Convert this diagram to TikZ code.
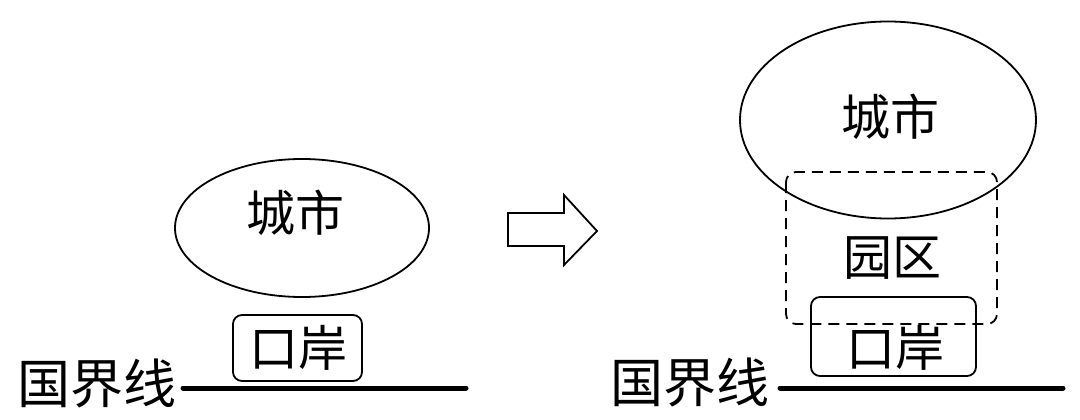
\documentclass[tikz,border=0pt]{standalone}
\usepackage{fontspec}
\newfontfamily\cjk{Noto Sans CJK SC}
\usetikzlibrary{shapes.geometric,positioning}

\begin{document}
\begin{tikzpicture}[x=1pt,y=-1pt,
  lbl/.style={font=\cjk\fontsize{49}{58}\selectfont,inner sep=0pt},
  biglbl/.style={font=\cjk\fontsize{53}{62}\selectfont,inner sep=0pt},
  city/.style={draw,line width=1.8pt,ellipse,inner sep=0pt},
  portbox/.style={draw,line width=1.8pt,rounded corners=9pt,inner sep=0pt},
  border/.style={line width=5pt,line cap=round}]
\useasboundingbox (0,0) rectangle (1080,420);
% left: before
\node[city,minimum width=254,minimum height=138] (cityA) at (302,228) {};
\node[lbl] (cityAtxt) at (295,213) {城市};
\node[portbox,minimum width=129,minimum height=66] (portA) at (297.5,348) {};
\node[lbl] (portAtxt) at (298,348) {口岸};
\node[biglbl] (lineAtxt) at (97,383) {国界线};
\coordinate (lineAs) at (183,388);
\coordinate (lineAe) at (466,388);
\draw[border] (lineAs) -- (lineAe);
% block arrow
\draw[line width=1.8pt,line join=miter]
  (508,213) -- (564,213) -- (564,195) -- (597,231) -- (564,265) -- (564,246) -- (508,246) -- cycle;
% right: after
\node[city,minimum width=296,minimum height=197] (cityB) at (888,120) {};
\node[lbl] (cityBtxt) at (890,117) {城市};
\node[portbox,minimum width=165,minimum height=79] (portB) at (893.5,336.5) {};
\draw[line width=1.8pt,dash pattern=on 11pt off 7pt,rounded corners=10pt]
  (786,172) rectangle (997,324);
\node[lbl] (parkB) at (892,258) {园区};
\node[lbl] (portBtxt) at (895,348) {口岸};
\node[biglbl] (lineBtxt) at (690,382) {国界线};
\coordinate (lineBs) at (780,388);
\coordinate (lineBe) at (1063,388);
\draw[border] (lineBs) -- (lineBe);
\end{tikzpicture}
\end{document}
